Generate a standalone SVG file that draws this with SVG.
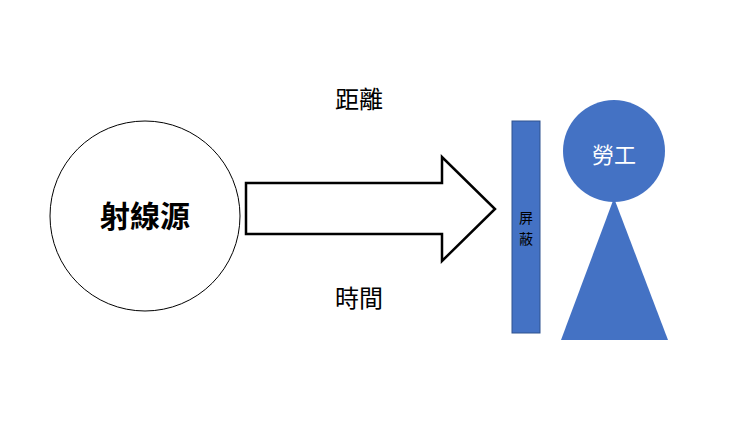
<svg xmlns="http://www.w3.org/2000/svg" width="740" height="421" viewBox="0 0 740 421">
<style>
.t{font-family:"Noto Sans CJK TC","Noto Sans CJK SC",sans-serif}
.blue{fill:#4472C4;stroke:#2F528F;stroke-width:1}
</style>
<rect width="740" height="421" fill="#fff"/>
<g id="source"><circle cx="145" cy="216" r="95" fill="#fff" stroke="#000" stroke-width="1"/>
<text class="t" x="145" y="227" font-size="30" font-weight="bold" text-anchor="middle">射線源</text></g>
<g id="connectors"><path d="M246,183 H442 V157 L495,209 L442,261 V234 H246 Z" fill="#fff" stroke="#000" stroke-width="2.5" stroke-linejoin="miter"/></g>
<g id="labels">
<text class="t" x="359" y="108" font-size="24" text-anchor="middle">距離</text>
<text class="t" x="359" y="307" font-size="24" text-anchor="middle">時間</text></g>
<g id="shield"><rect class="blue" x="512" y="121" width="28" height="212"/>
<text class="t" x="526" y="223" font-size="14" text-anchor="middle">屏</text>
<text class="t" x="526" y="244" font-size="14" text-anchor="middle">蔽</text></g>
<g id="worker"><polygon points="614,198 668,340 561,340" fill="#4472C4"/>
<circle cx="614" cy="151" r="51" fill="#4472C4"/>
<text class="t" x="614" y="163" font-size="22" fill="#fff" text-anchor="middle">勞工</text></g>
</svg>
